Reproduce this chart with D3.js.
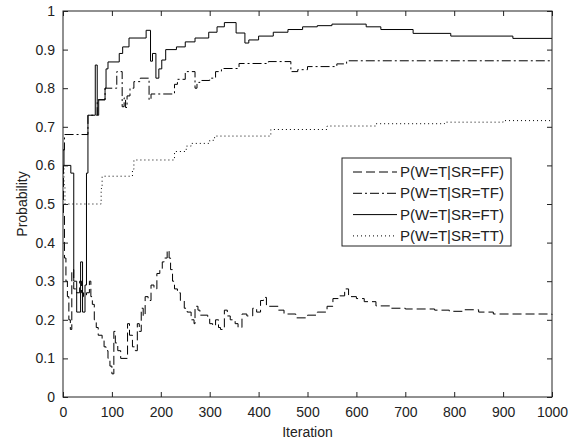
<!DOCTYPE html>
<html lang="en">
<head>
    <meta charset="UTF-8">
    <title>P(W=T|SR) vs Iteration</title>
    <script src="https://d3js.org/d3.v7.min.js"></script>
    <style>
        body{
            margin: 0;
            background-color: white;
        }
        #canvas{
            display: block;
        }
        text{
            font-family: "Liberation Sans", Arial, sans-serif;
            fill: #222;
        }
        .series{
            fill: none;
            stroke: black;
            stroke-width: 1px;
        }
    </style>
</head>
<body>
<svg id="canvas" width="570" height="445"></svg>
<script>
    //tick labels
    let xTicks = [0,100,200,300,400,500,600,700,800,900,1000]
    let yTicks = [0,0.1,0.2,0.3,0.4,0.5,0.6,0.7,0.8,0.9,1]

    //series: [iteration, probability], drawn as steps
    let ffPoints = [[0,0.6],[1,0.47],[3,0.36],[6,0.3],[9,0.26],[12,0.2],[15,0.175],[18,0.33],[22,0.28],[28,0.27],[34,0.3],[38,0.27],
        [42,0.26],[48,0.27],[54,0.3],[57,0.26],[60,0.24],[64,0.2],[68,0.18],[72,0.16],[80,0.15],[84,0.13],[88,0.12],[92,0.1],
        [96,0.08],[100,0.06],[104,0.17],[107,0.14],[112,0.12],[118,0.1],[132,0.19],[136,0.16],[142,0.13],[148,0.12],[152,0.19],
        [156,0.17],[160,0.23],[164,0.21],[168,0.26],[174,0.25],[180,0.29],[186,0.28],[192,0.32],[198,0.33],[203,0.35],[207,0.36],
        [213,0.38],[217,0.36],[220,0.33],[224,0.3],[228,0.28],[234,0.27],[240,0.25],[248,0.23],[254,0.22],[262,0.2],[268,0.19],
        [270,0.235],[276,0.225],[280,0.212],[296,0.205],[300,0.19],[306,0.185],[312,0.2],[318,0.18],[322,0.175],[330,0.225],
        [336,0.21],[342,0.2],[352,0.19],[358,0.18],[366,0.215],[376,0.21],[388,0.23],[396,0.22],[404,0.25],[410,0.258],
        [416,0.235],[440,0.225],[452,0.215],[476,0.205],[500,0.212],[520,0.22],[540,0.235],[552,0.255],[566,0.262],[576,0.28],
        [584,0.26],[600,0.255],[616,0.247],[640,0.236],[670,0.23],[700,0.228],[760,0.225],[790,0.222],[820,0.226],[850,0.22],
        [880,0.215],[1000,0.213]]
    let tfPoints = [[0,0.64],[3,0.68],[51,0.73],[70,0.77],[86,0.8],[110,0.843],[121,0.752],[125,0.775],[128,0.75],[131,0.78],
        [137,0.8],[145,0.817],[158,0.826],[176,0.77],[180,0.785],[228,0.81],[234,0.823],[250,0.843],[270,0.8],[274,0.815],
        [280,0.82],[300,0.826],[312,0.843],[324,0.851],[360,0.864],[420,0.869],[466,0.843],[480,0.848],[500,0.856],[560,0.863],
        [580,0.871],[1000,0.871]]
    let ftPoints = [[0,0.64],[2,0.6],[16,0.58],[22,0.3],[28,0.22],[36,0.35],[40,0.22],[45,0.29],[48,0.58],[51,0.73],[66,0.86],
        [70,0.73],[73,0.77],[86,0.8],[88,0.85],[92,0.868],[115,0.89],[122,0.907],[135,0.93],[170,0.95],[179,0.87],[183,0.89],
        [190,0.826],[196,0.85],[202,0.873],[210,0.9],[232,0.907],[250,0.92],[270,0.93],[298,0.945],[315,0.959],[330,0.97],
        [354,0.943],[372,0.917],[380,0.925],[400,0.935],[430,0.945],[460,0.952],[490,0.959],[520,0.962],[550,0.966],[620,0.959],
        [650,0.952],[716,0.942],[793,0.935],[920,0.929],[1000,0.929]]
    let ttPoints = [[0,0.6],[2,0.55],[4,0.5],[78,0.54],[80,0.572],[142,0.59],[145,0.614],[228,0.636],[252,0.65],[262,0.657],
        [300,0.665],[310,0.676],[425,0.693],[540,0.702],[640,0.708],[780,0.712],[900,0.716],[1000,0.716]]

    let seriesNames = ["P(W=T|SR=FF)","P(W=T|SR=TF)","P(W=T|SR=FT)","P(W=T|SR=TT)"]
    let seriesData = [ffPoints,tfPoints,ftPoints,ttPoints]
    let dashes = ["9,4","9,3,2,3","none","1,3"]

    let svg = d3.select('#canvas')
    let plot = {left:63, right:552, top:11, bottom:397}

    let xScale = d3.scaleLinear().domain([0,1000]).range([plot.left,plot.right])
    let yScale = d3.scaleLinear().domain([0,1]).range([plot.bottom,plot.top])

    //the lines
    let line = d3.line()
        .x(function(d){return xScale(d[0])})
        .y(function(d){return yScale(d[1])})
        .curve(d3.curveStepAfter)

    svg.selectAll('path.series')
        .data(seriesData)
        .enter()
        .append('path')
        .attr("class","series")
        .attr("d",line)
        .attr("stroke-dasharray",function(d,i){return dashes[i]})

    //axes, matlab style: ticks inside on every side
    let tickLen = 5
    svg.append('g')
        .attr("transform","translate(0,"+plot.bottom+")")
        .call(d3.axisBottom(xScale).tickValues(xTicks).tickSizeInner(-tickLen).tickSizeOuter(0).tickPadding(10).tickFormat(d3.format("d")))
    svg.append('g')
        .attr("transform","translate(0,"+plot.top+")")
        .call(d3.axisTop(xScale).tickValues(xTicks).tickSizeInner(-tickLen).tickSizeOuter(0).tickFormat(""))
    svg.append('g')
        .attr("transform","translate("+plot.left+",0)")
        .call(d3.axisLeft(yScale).tickValues(yTicks).tickSizeInner(-tickLen).tickSizeOuter(0).tickPadding(8).tickFormat(function(d){return d3.format("~g")(d)}))
    svg.append('g')
        .attr("transform","translate("+plot.right+",0)")
        .call(d3.axisRight(yScale).tickValues(yTicks).tickSizeInner(-tickLen).tickSizeOuter(0).tickFormat(""))

    svg.selectAll('.tick line').attr("stroke","#222")
    svg.selectAll('.domain').remove()
    svg.selectAll('.tick text').style("font-size","14px").attr("fill","#222")

    //plot box
    svg.append('rect')
        .attr("x",plot.left).attr("y",plot.top)
        .attr("width",plot.right-plot.left).attr("height",plot.bottom-plot.top)
        .attr("fill","none").attr("stroke","#222").attr("stroke-width",1)

    //axis labels
    svg.append('text')
        .attr("x",(plot.left+plot.right)/2).attr("y",437)
        .attr("text-anchor","middle").style("font-size","14px")
        .text("Iteration")
    svg.append('text')
        .attr("transform","translate(27,"+((plot.top+plot.bottom)/2)+") rotate(-90)")
        .attr("text-anchor","middle").style("font-size","14px")
        .text("Probability")

    //legend
    let legend = svg.append('g')
    legend.append('rect')
        .attr("x",342).attr("y",158).attr("width",169).attr("height",88)
        .attr("fill","white").attr("stroke","#222").attr("stroke-width",1)
    let rows = legend.selectAll('g.row')
        .data(seriesNames)
        .enter()
        .append('g')
        .attr("class","row")
        .attr("transform",function(d,i){return "translate(0,"+(172+i*21.3)+")"})
    rows.append('line')
        .attr("x1",353).attr("x2",397).attr("y1",0).attr("y2",0)
        .attr("stroke","black").attr("stroke-width",1)
        .attr("stroke-dasharray",function(d,i){return dashes[i]})
    rows.append('text')
        .attr("x",400).attr("y",5)
        .style("font-size","15px")
        .text(function(d){return d})
</script>
</body>
</html>
